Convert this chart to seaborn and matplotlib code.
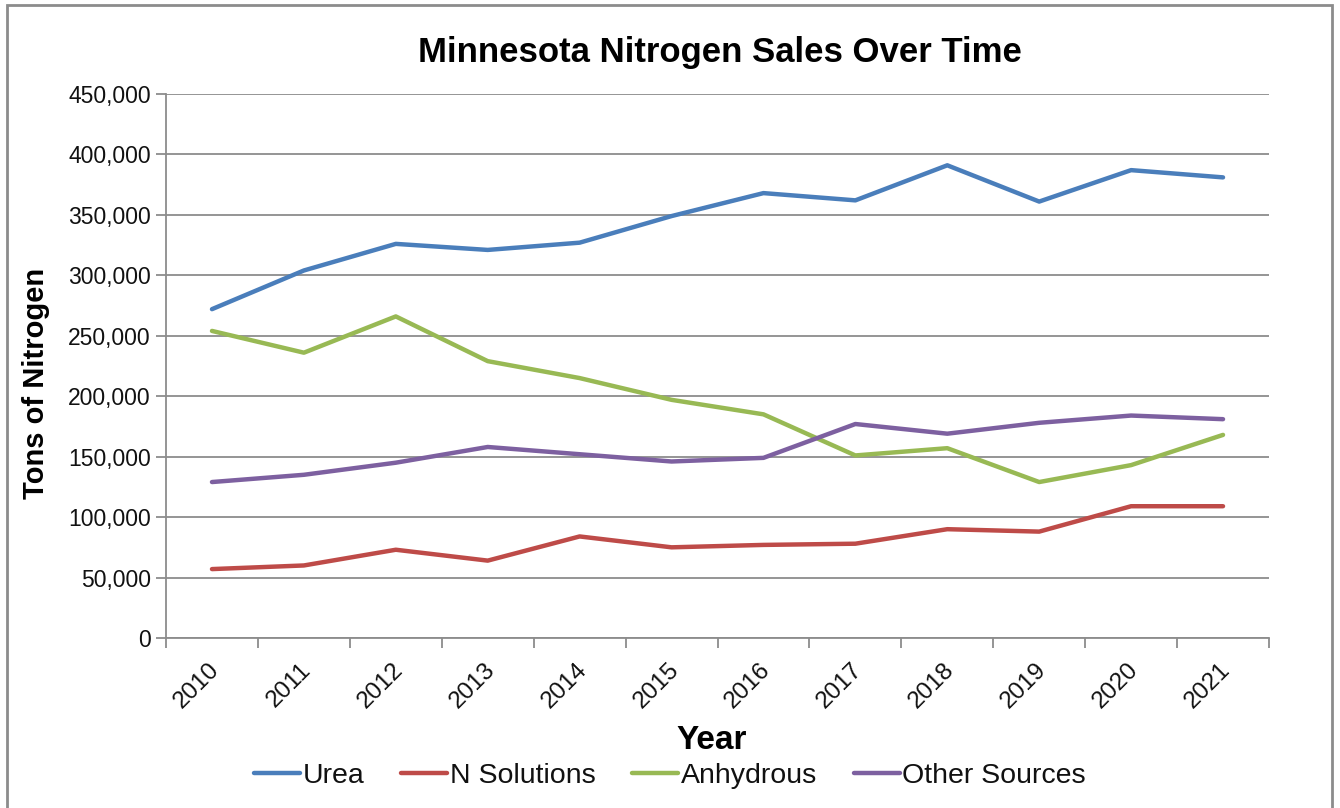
import matplotlib

matplotlib.use("Agg")
import matplotlib.pyplot as plt
import matplotlib.transforms as mtransforms
import numpy as np
import pandas as pd
import seaborn as sns
from matplotlib.patches import Rectangle
from matplotlib.ticker import FuncFormatter, FixedLocator

years = ["2010", "2011", "2012", "2013", "2014", "2015", "2016", "2017", "2018", "2019", "2020", "2021"]
urea = [272000, 304000, 326000, 321000, 327000, 349000, 368000, 362000, 391000, 361000, 387000, 381000]
n_solutions = [57000, 60000, 73000, 64000, 84000, 75000, 77000, 78000, 90000, 88000, 109000, 109000]
anhydrous = [254000, 236000, 266000, 229000, 215000, 197000, 185000, 151000, 157000, 129000, 143000, 168000]
other_sources = [129000, 135000, 145000, 158000, 152000, 146000, 149000, 177000, 169000, 178000, 184000, 181000]

series_names = ["Urea", "N Solutions", "Anhydrous", "Other Sources"]
colors = ["#4A7EBB", "#BE4B48", "#98B954", "#7D60A0"]

df = pd.DataFrame({"Year": years, "Urea": urea, "N Solutions": n_solutions,
                   "Anhydrous": anhydrous, "Other Sources": other_sources})
long_df = df.melt(id_vars="Year", var_name="Source", value_name="Tons")
long_df["pos"] = long_df["Year"].map({y: i for i, y in enumerate(years)})

sns.set_theme(style="white")
plt.rcParams["font.family"] = ["Liberation Sans", "DejaVu Sans"]

fig = plt.figure(figsize=(13.4, 8.08), dpi=100)
ax = fig.add_axes([0.1239, 0.2104, 0.947 - 0.1239, 0.8837 - 0.2104])

sns.lineplot(data=long_df, x="pos", y="Tons", hue="Source", hue_order=series_names,
             palette=colors, linewidth=3.2, ax=ax, legend=False)

grid_c = "#8C8C8C"
ax.set_ylim(0, 450000)
ax.set_xlim(-0.5, len(years) - 0.5)
ax.set_yticks(np.arange(0, 450001, 50000))
ax.yaxis.set_major_formatter(FuncFormatter(lambda v, p: f"{int(v):,}"))
ax.grid(axis="y", color=grid_c, linewidth=1.3)
ax.set_axisbelow(True)

ax.set_xticks(range(len(years)))
ax.set_xticklabels(years, rotation=45, ha="right", va="top", rotation_mode="anchor")
ax.xaxis.set_minor_locator(FixedLocator(np.arange(-0.5, len(years), 1.0)))
ax.tick_params(axis="x", which="major", length=0, pad=15, labelsize=17.5, labelcolor="#111111")
ax.tick_params(axis="x", which="minor", length=7, width=1.3, color=grid_c, direction="out")
ax.tick_params(axis="y", length=7, width=1.3, color=grid_c, direction="out", labelsize=16.5,
               pad=4, labelcolor="#111111")
ax.yaxis.set_ticks_position("left")
ax.xaxis.set_ticks_position("bottom")

# nudge rotated year labels a little to the left, like the original
shift = mtransforms.ScaledTranslation(-4 / 100, 0, fig.dpi_scale_trans)
for lbl in ax.get_xticklabels():
    lbl.set_transform(lbl.get_transform() + shift)

for side in ["top", "right"]:
    ax.spines[side].set_visible(False)
for side in ["left", "bottom"]:
    ax.spines[side].set_color(grid_c)
    ax.spines[side].set_linewidth(1.3)

ax.set_xlabel("")
ax.set_ylabel("")
fig.text(0.537, 0.935, "Minnesota Nitrogen Sales Over Time", ha="center", va="center",
         fontsize=25, fontweight="bold", color="black")
fig.text(0.531, 0.084, "Year", ha="center", va="center", fontsize=24, fontweight="bold",
         color="black")
fig.text(0.027, 0.525, "Tons of Nitrogen", ha="center", va="center", rotation=90,
         fontsize=21, fontweight="bold", color="black")

handles = [plt.Line2D([], [], color=c, linewidth=3.2) for c in colors]
fig.legend(handles, series_names, loc="center", bbox_to_anchor=(0.5, 0.04), ncol=4,
           frameon=False, fontsize=20.5, handlelength=1.6, handletextpad=0.1,
           columnspacing=1.3, labelcolor="#111111")

fig.patches.append(Rectangle((7 / 1340, -0.01), (1332 - 7) / 1340, 1 - 5 / 808 + 0.01,
                             transform=fig.transFigure, fill=False, edgecolor="#8C8C8C",
                             linewidth=2))

fig.savefig("out.png", dpi=100)
plt.close(fig)
